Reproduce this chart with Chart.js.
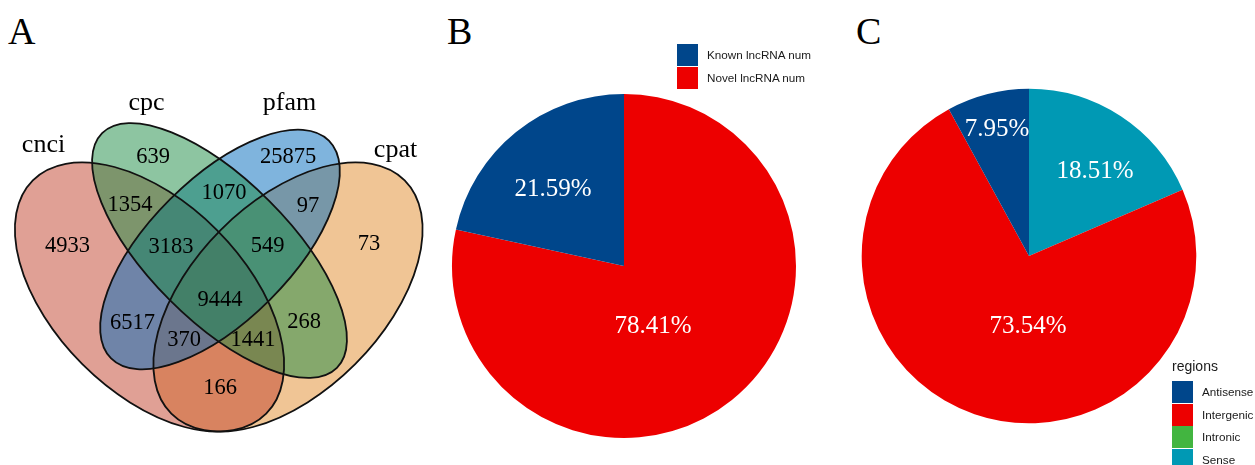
<!DOCTYPE html>
<html>
<head>
<meta charset="utf-8">
<script src="https://cdn.jsdelivr.net/npm/chart.js@4/dist/chart.umd.min.js"></script>
<style>
  html, body { margin: 0; padding: 0; background: #fff; }
  body { width: 1255px; height: 465px; position: relative; overflow: hidden; }
  .panel { position: absolute; }
  .tag { position: absolute; font-family: "Liberation Serif", "Times New Roman", serif; font-size: 38px; line-height: 1; color: #000; }
  .legend { position: absolute; font-family: "Liberation Sans", Arial, sans-serif; font-size: 11.7px; color: #1a1a1a; }
  .legend .title { position: absolute; left: 0; font-size: 14px; line-height: 14px; white-space: nowrap; }
  .legend .item { position: absolute; left: 0; height: 22px; white-space: nowrap; }
  .legend .key { position: absolute; left: 0; top: 0; width: 21px; height: 22px; }
  .legend .text { position: absolute; top: 0; line-height: 22px; }
</style>
</head>
<body>
<div class="tag" style="left:8px;top:12px">A</div>
<div class="tag" style="left:447px;top:12px">B</div>
<div class="tag" style="left:856px;top:12px">C</div>

<div class="panel" style="left:0;top:0;width:440px;height:465px"><canvas id="venn" width="440" height="465"></canvas></div>
<div class="panel" style="left:444px;top:86px;width:360px;height:360px"><canvas id="pieB" width="360" height="360"></canvas></div>
<div class="panel" style="left:849px;top:76px;width:360px;height:360px"><canvas id="pieC" width="360" height="360"></canvas></div>

<div class="legend" id="legendB" style="left:677px;top:44px"></div>
<div class="legend" id="legendC" style="left:1172px;top:359px"></div>

<script>
// ---- Venn: four prediction tools ----
const vennSets = ['cnci', 'cpc', 'pfam', 'cpat'];
const vennRegions = [
  'cnci', 'cpc', 'pfam', 'cpat',
  'cnci&cpc', 'cnci&pfam', 'cnci&cpat', 'cpc&pfam', 'cpc&cpat', 'pfam&cpat',
  'cnci&cpc&pfam', 'cnci&cpc&cpat', 'cnci&pfam&cpat', 'cpc&pfam&cpat',
  'cnci&cpc&pfam&cpat'
];
const vennCounts = [4933, 639, 25875, 73, 1354, 6517, 166, 1070, 268, 97, 3183, 1441, 370, 549, 9444];

// ---- lncRNA origin ----
const lncCategories = ['Known lncRNA num', 'Novel lncRNA num'];
const lncPercent = [21.59, 78.41];

// ---- genomic regions ----
const regionCategories = ['Antisense', 'Intergenic', 'Intronic', 'Sense'];
const regionPercent = [7.95, 73.54, 0, 18.51];

// ---------------- layout & style ----------------
const lancet = ['#00468B', '#ED0000', '#42B540', '#0099B4'];
const serif = '"Liberation Serif", "Times New Roman", serif';

// ellipse geometry in layout units (one unit per pixel of the panel)
const setShapes = {
  cnci: { cx: 149.5, cy: 297,   rx: 165, ry: 95,   rot: 45,  color: 'rgb(193,65,43)' },
  cpat: { cx: 288,   cy: 297,   rx: 165, ry: 95,   rot: -45, color: 'rgb(226,139,44)' },
  pfam: { cx: 220,   cy: 249.5, rx: 154, ry: 70.8, rot: -45, color: 'rgb(0,106,187)' },
  cpc:  { cx: 219.5, cy: 250.5, rx: 166, ry: 70.2, rot: 45,  color: 'rgb(28,140,68)' }
};
const fillOrder = ['cpat', 'cnci', 'pfam', 'cpc'];
const setNamePos = { cnci: [43.5, 152], cpc: [146.5, 110], pfam: [289.5, 110], cpat: [395.5, 157] };
// anchor of each region's count, same order as vennRegions
const regionAnchors = [
  [67.5, 246], [153, 157], [288, 157], [369, 244],
  [130, 205], [132.5, 323], [220, 388], [224, 193], [304, 322], [308, 206],
  [171, 247], [253, 340], [184, 340], [267.5, 246],
  [220, 300]
];

const vennDraw = {
  id: 'vennDraw',
  beforeDatasetsDraw(chart) {
    const { ctx, scales: { x, y } } = chart;
    const ux = Math.abs(x.getPixelForValue(1) - x.getPixelForValue(0));
    const uy = Math.abs(y.getPixelForValue(1) - y.getPixelForValue(0));
    const path = s => {
      ctx.beginPath();
      ctx.ellipse(x.getPixelForValue(s.cx), y.getPixelForValue(s.cy), s.rx * ux, s.ry * uy,
        s.rot * Math.PI / 180, 0, Math.PI * 2);
    };
    ctx.save();
    ctx.globalAlpha = 0.5;
    fillOrder.forEach(k => { path(setShapes[k]); ctx.fillStyle = setShapes[k].color; ctx.fill(); });
    ctx.globalAlpha = 1;
    ctx.strokeStyle = '#111';
    ctx.lineWidth = 1.8;
    fillOrder.forEach(k => { path(setShapes[k]); ctx.stroke(); });
    ctx.fillStyle = '#000';
    ctx.font = '26px ' + serif;
    ctx.textAlign = 'center';
    ctx.textBaseline = 'alphabetic';
    vennSets.forEach(k => {
      const p = setNamePos[k];
      ctx.fillText(k, x.getPixelForValue(p[0]), y.getPixelForValue(p[1]));
    });
    ctx.restore();
  },
  afterDatasetsDraw(chart) {
    const { ctx } = chart;
    const meta = chart.getDatasetMeta(0);
    ctx.save();
    ctx.fillStyle = '#000';
    ctx.font = '22.5px ' + serif;
    ctx.textAlign = 'center';
    ctx.textBaseline = 'middle';
    meta.data.forEach((pt, i) => ctx.fillText(String(vennCounts[i]), pt.x, pt.y));
    ctx.restore();
  }
};

new Chart(document.getElementById('venn'), {
  type: 'scatter',
  data: {
    labels: vennRegions,
    datasets: [{
      label: 'regions',
      data: regionAnchors.map(p => ({ x: p[0], y: p[1] })),
      pointRadius: 0,
      pointHoverRadius: 0
    }]
  },
  options: {
    responsive: false,
    animation: false,
    events: [],
    layout: { padding: 0 },
    scales: {
      x: { type: 'linear', min: 0, max: 440, display: false },
      y: { type: 'linear', min: 0, max: 465, reverse: true, display: false }
    },
    plugins: { legend: { display: false }, tooltip: { enabled: false } }
  },
  plugins: [vennDraw]
});

// percentage labels placed from each slice's own angle
const sliceLabels = {
  id: 'sliceLabels',
  afterDatasetsDraw(chart, args, opts) {
    const { ctx } = chart;
    const meta = chart.getDatasetMeta(0);
    const values = chart.data.datasets[0].data;
    ctx.save();
    ctx.fillStyle = '#fff';
    ctx.font = '25px ' + serif;
    ctx.textAlign = 'center';
    ctx.textBaseline = 'middle';
    meta.data.forEach((arc, i) => {
      const v = values[i];
      if (!v) return;
      const p = opts.placement[i];
      const { x, y, startAngle, endAngle, outerRadius } =
        arc.getProps(['x', 'y', 'startAngle', 'endAngle', 'outerRadius'], true);
      const a = (startAngle + endAngle) / 2 + p.turn * Math.PI / 180;
      const r = outerRadius * p.reach;
      ctx.fillText(v.toFixed(2) + '%', x + Math.cos(a) * r, y + Math.sin(a) * r + 1.5);
    });
    ctx.restore();
  }
};

// slices run counter-clockwise from 12 o'clock in category order,
// so they are handed to the (clockwise) pie in reverse
function makePie(id, cats, vals, colors, radius, placement) {
  const rev = a => a.slice().reverse();
  return new Chart(document.getElementById(id), {
    type: 'pie',
    data: {
      labels: rev(cats),
      datasets: [{ data: rev(vals), backgroundColor: rev(colors), borderWidth: 0 }]
    },
    options: {
      responsive: false,
      animation: false,
      events: [],
      radius: radius,
      layout: { padding: 0 },
      plugins: {
        legend: { display: false },
        tooltip: { enabled: false },
        sliceLabels: { placement: rev(placement) }
      }
    },
    plugins: [sliceLabels]
  });
}

function buildLegend(chart, el, title, step) {
  const items = chart.options.plugins.legend.labels.generateLabels(chart).reverse();
  let top = 0;
  if (title) {
    const t = document.createElement('div');
    t.className = 'title';
    t.style.top = '0px';
    t.textContent = title;
    el.appendChild(t);
    top = 22;
  }
  items.forEach((it, i) => {
    const row = document.createElement('div');
    row.className = 'item';
    row.style.top = (top + i * step) + 'px';
    const key = document.createElement('div');
    key.className = 'key';
    key.style.background = it.fillStyle;
    const txt = document.createElement('div');
    txt.className = 'text';
    txt.style.left = '30px';
    txt.textContent = it.text;
    row.appendChild(key);
    row.appendChild(txt);
    el.appendChild(row);
  });
}

const pieB = makePie('pieB', lncCategories, lncPercent, lancet.slice(0, 2), 172,
  [{ turn: -3.2, reach: 0.615 }, { turn: 12.5, reach: 0.38 }]);
const pieC = makePie('pieC', regionCategories, regionPercent, lancet, 167.3,
  [{ turn: 0.3, reach: 0.79 }, { turn: -18.2, reach: 0.41 }, { turn: 0, reach: 0.5 }, { turn: 4, reach: 0.65 }]);

buildLegend(pieB, document.getElementById('legendB'), null, 23);
buildLegend(pieC, document.getElementById('legendC'), 'regions', 22.7);
</script>
</body>
</html>
